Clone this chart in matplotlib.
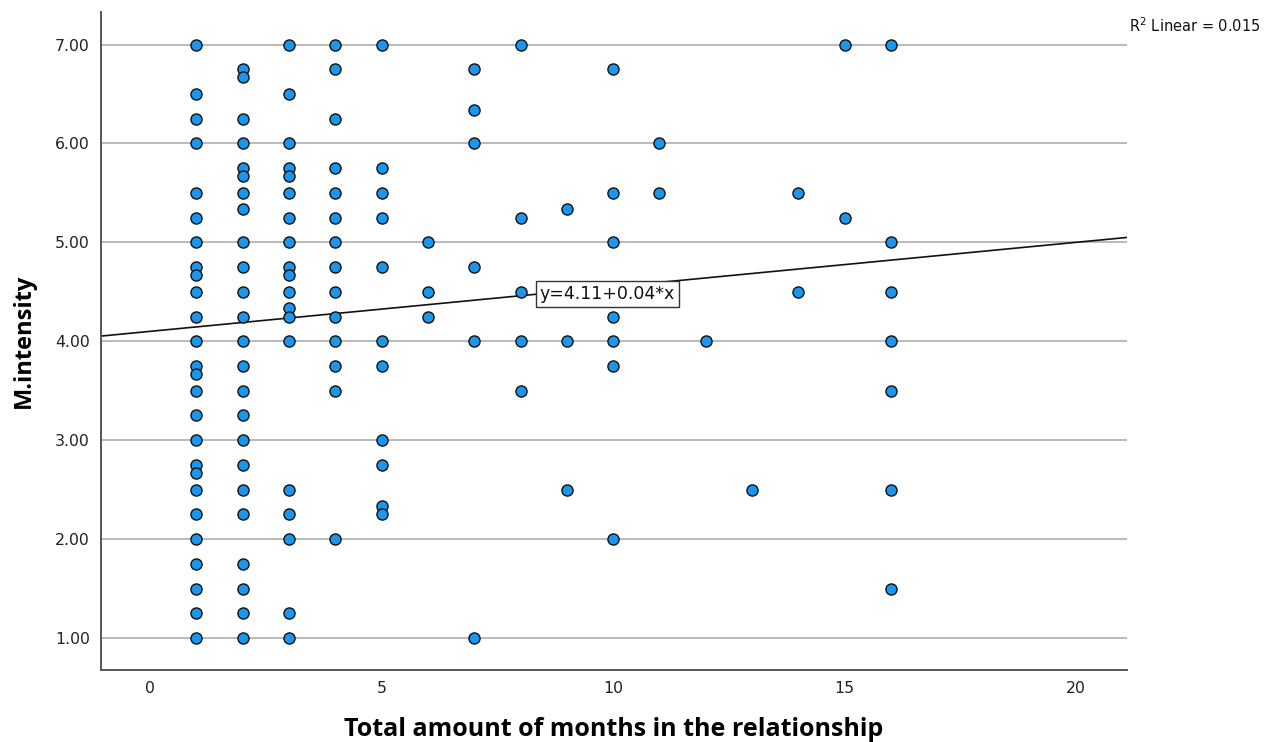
import numpy as np
import matplotlib
matplotlib.use('Agg')
import matplotlib.pyplot as plt

# months in relationship -> M.intensity values (one list per column)
intensity_by_month = {
    1: [7.00, 6.50, 6.25, 6.00, 5.50, 5.25, 5.00, 4.75, 4.667, 4.50, 4.25, 4.00,
        3.75, 3.667, 3.50, 3.25, 3.00, 2.75, 2.667, 2.50, 2.25, 2.00, 1.75, 1.50, 1.25, 1.00],
    2: [6.75, 6.667, 6.25, 6.00, 5.75, 5.667, 5.50, 5.333, 5.00, 4.75, 4.50, 4.25, 4.00,
        3.75, 3.50, 3.25, 3.00, 2.75, 2.50, 2.25, 1.75, 1.50, 1.25, 1.00],
    3: [7.00, 6.50, 6.00, 5.75, 5.667, 5.50, 5.25, 5.00, 4.75, 4.667, 4.50, 4.333, 4.25,
        4.00, 2.50, 2.25, 2.00, 1.25, 1.00],
    4: [7.00, 6.75, 6.25, 5.75, 5.50, 5.25, 5.00, 4.75, 4.50, 4.25, 4.00, 3.75, 3.50, 2.00],
    5: [7.00, 5.75, 5.50, 5.25, 4.75, 4.00, 3.75, 3.00, 2.75, 2.333, 2.25],
    6: [5.00, 4.50, 4.25],
    7: [6.75, 6.333, 6.00, 4.75, 4.00, 1.00],
    8: [7.00, 5.25, 4.50, 4.00, 3.50],
    9: [5.333, 4.00, 2.50],
    10: [6.75, 5.50, 5.00, 4.25, 4.00, 3.75, 2.00],
    11: [6.00, 5.50],
    12: [4.00],
    13: [2.50],
    14: [5.50, 4.50],
    15: [7.00, 5.25],
    16: [7.00, 5.00, 4.50, 4.00, 3.50, 2.50, 1.50],
}

fit_intercept = 4.10
fit_slope = 0.045
fit_label = 'y=4.11+0.04*x'
r2_label = 'R$^2$ Linear = 0.015'

x_ticks = [0, 5, 10, 15, 20]
y_ticks = [1, 2, 3, 4, 5, 6, 7]

months = []
intensity = []
for m, vals in intensity_by_month.items():
    months += [m] * len(vals)
    intensity += vals
months = np.array(months)
intensity = np.array(intensity)

fig = plt.figure(figsize=(12.87, 7.42), dpi=100)
ax = fig.add_axes([0.0785, 0.097, 0.7972, 0.887])

xmin, xmax = -1.06, 21.1
ax.set_xlim(xmin, xmax)
ax.set_ylim(0.676, 7.33)

for yv in y_ticks:
    ax.axhline(yv, color='#b4b4b4', lw=1.3, zorder=0)

xs = np.array([xmin, xmax])
ax.plot(xs, fit_intercept + fit_slope * xs, color='#111111', lw=1.2, zorder=2)

ax.scatter(months, intensity, s=64, facecolor='#1a96ee', edgecolor='#111111',
           linewidth=1.0, zorder=3)

ax.text(8.42, fit_intercept + fit_slope * 8.42, fit_label, fontsize=12.5, color='#111111',
        ha='left', va='center', zorder=4,
        bbox=dict(boxstyle='square,pad=0.22', facecolor='white', edgecolor='#333333', lw=1.0))

fig.text(0.877, 0.965, r2_label, fontsize=10.5, color='#111111', ha='left', va='center')

ax.set_xticks(x_ticks)
ax.set_xticklabels([str(v) for v in x_ticks])
ax.set_yticks(y_ticks)
ax.set_yticklabels([f'{v:.2f}' for v in y_ticks])
ax.tick_params(axis='both', length=0, labelsize=11.3, colors='#222222', pad=8)

for side in ['top', 'right']:
    ax.spines[side].set_visible(False)
for side in ['left', 'bottom']:
    ax.spines[side].set_color('#555555')
    ax.spines[side].set_linewidth(1.4)

ax.set_xlabel('Total amount of months in the relationship', fontsize=18, fontweight='bold',
              family='Open Sans', labelpad=15)
ax.set_ylabel('M.intensity', fontsize=17, fontweight='bold', family='Open Sans', labelpad=14)

fig.savefig('out.png', dpi=100)
